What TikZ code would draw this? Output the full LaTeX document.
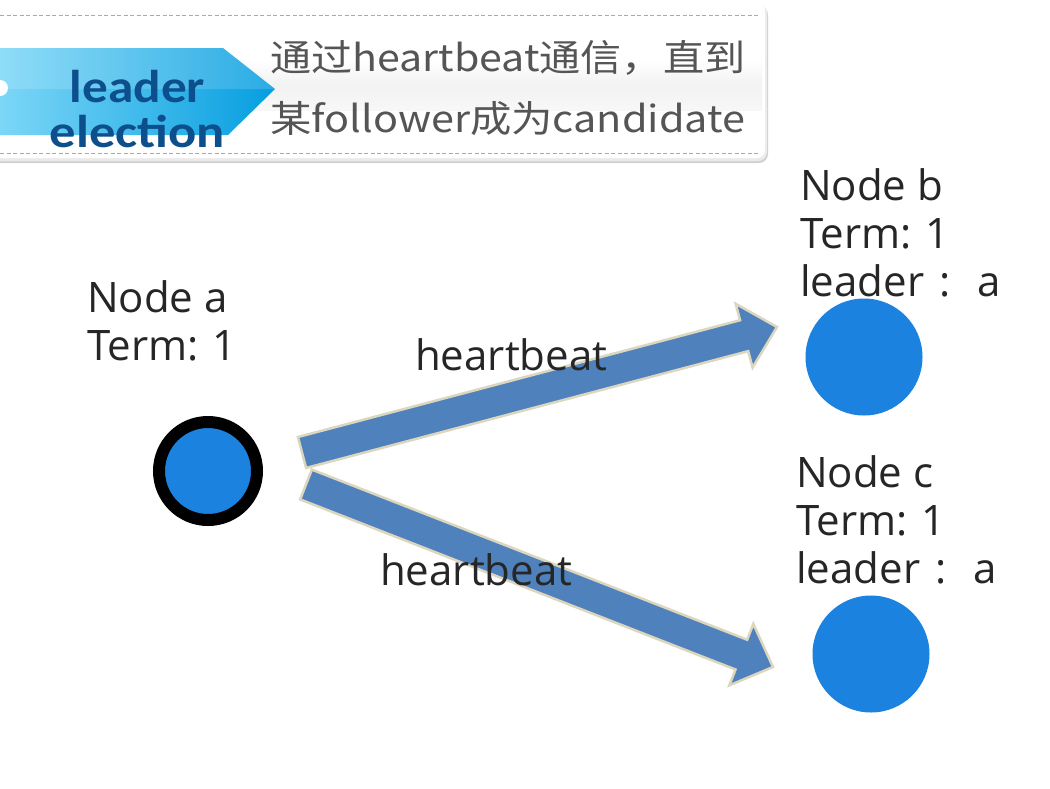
\documentclass[tikz,border=0pt]{standalone}
\usepackage{fontspec}
\usepackage{graphicx}
\setmainfont{Open Sans}
\newfontfamily\cjk{Noto Sans CJK SC}
\newfontfamily\ribbonfont{Carlito}
\usetikzlibrary{calc}
\definecolor{nodeblue}{RGB}{28,130,224}
\definecolor{arrowblue}{RGB}{79,129,189}
\definecolor{arrowedge}{RGB}{221,214,190}
\definecolor{txt}{RGB}{38,38,38}
\definecolor{hdrtxt}{RGB}{85,85,85}
\definecolor{ribbontxt}{RGB}{12,79,140}
\definecolor{ribbonL}{RGB}{125,215,247}
\definecolor{ribbonR}{RGB}{5,158,224}
\definecolor{dashgray}{RGB}{170,170,170}
\newcommand\fatarrow[3]{%
  \coordinate (#3h) at ($(#2)!34pt!(#1)$);
  \draw[fatarrowstyle] ($(#1)!16pt!90:(#2)$) -- ($(#3h)!16pt!-90:(#1)$)
    -- ($(#3h)!33pt!-90:(#1)$) -- (#2) -- ($(#3h)!33pt!90:(#1)$)
    -- ($(#3h)!16pt!90:(#1)$) -- ($(#1)!16pt!-90:(#2)$) -- cycle;
}
\begin{document}
\begin{tikzpicture}[x=1pt,y=-1pt,
  lbl/.style={font=\fontsize{42}{48}\selectfont, text=txt, align=left, inner sep=0pt, anchor=base west},
  hdr/.style={font=\cjk\fontsize{37}{44}\selectfont, text=hdrtxt, inner sep=0pt, anchor=base west},
  rib/.style={font=\ribbonfont\bfseries\fontsize{46}{50}\selectfont, text=ribbontxt, inner sep=0pt, anchor=base},
  fatarrowstyle/.style={fill=arrowblue, draw=arrowedge, line width=2.5pt, line join=miter},
  plainnode/.style={circle, fill=nodeblue, inner sep=0pt, minimum size=117pt},
  leadnode/.style={circle, fill=nodeblue, draw=black, line width=12pt, inner sep=0pt, minimum size=98pt}]
\useasboundingbox (0,0) rectangle (1050,788);
\fill[white] (0,0) rectangle (1050,788);
% header banner
\fill[black!18, rounded corners=9pt] (-14,6) rectangle (768,163);
\fill[black!8, rounded corners=9pt] (-14,4) rectangle (767,161);
\fill[white, rounded corners=8pt] (-12,2) rectangle (765,158);
\shade[top color=white, bottom color=black!3, middle color=black!5] (0,60) rectangle (762,110);
\draw[dashgray, line width=1pt, dash pattern=on 4pt off 2.5pt] (0,15) -- (760,15);
\draw[dashgray, line width=1pt, dash pattern=on 4pt off 2.5pt] (0,153) -- (760,153);
% ribbon
\shade[left color=ribbonL, right color=ribbonR] (-2,48) -- (223,48) -- (275,89) -- (228,135) -- (-2,135) -- cycle;
\fill[white, opacity=0.15] (-2,48) -- (223,48) -- (275,89) -- (-2,89) -- cycle;
\fill[white] (0,88) circle (8pt);
\node[rib] (rl1) at (137.5,102) {\resizebox{135pt}{\height}{leader}};
\node[rib] (rl2) at (137.5,147) {\resizebox{175pt}{\height}{election}};
\node[hdr] (h1) at (270,71) {\resizebox{475pt}{\height}{通过heartbeat通信，直到}};
\node[hdr] (h2) at (270,132) {\resizebox{475pt}{\height}{某follower成为candidate}};
% nodes
\node[leadnode] (a) at (208,471) {};
\node[plainnode] (b) at (864,357) {};
\node[plainnode] (c) at (871,654) {};
\node[lbl] (la) at (87,360) {Node a\\Term: 1};
\node[lbl] (lb) at (800,296) {Node b\\Term: 1\\leader\makebox[1em]{:} a};
\node[lbl] (lc) at (796,583) {Node c\\Term: 1\\leader\makebox[1em]{:} a};
% arrows
\coordinate (t1) at (302,452.5);
\coordinate (p1) at (777,327);
\coordinate (t2) at (306,484.5);
\coordinate (p2) at (773,667);
\fatarrow{t1}{p1}{ua}
\fatarrow{t2}{p2}{da}
\node[lbl] (hb1) at (415,370) {heartbeat};
\node[lbl] (hb2) at (380,585) {heartbeat};
\end{tikzpicture}
\end{document}
